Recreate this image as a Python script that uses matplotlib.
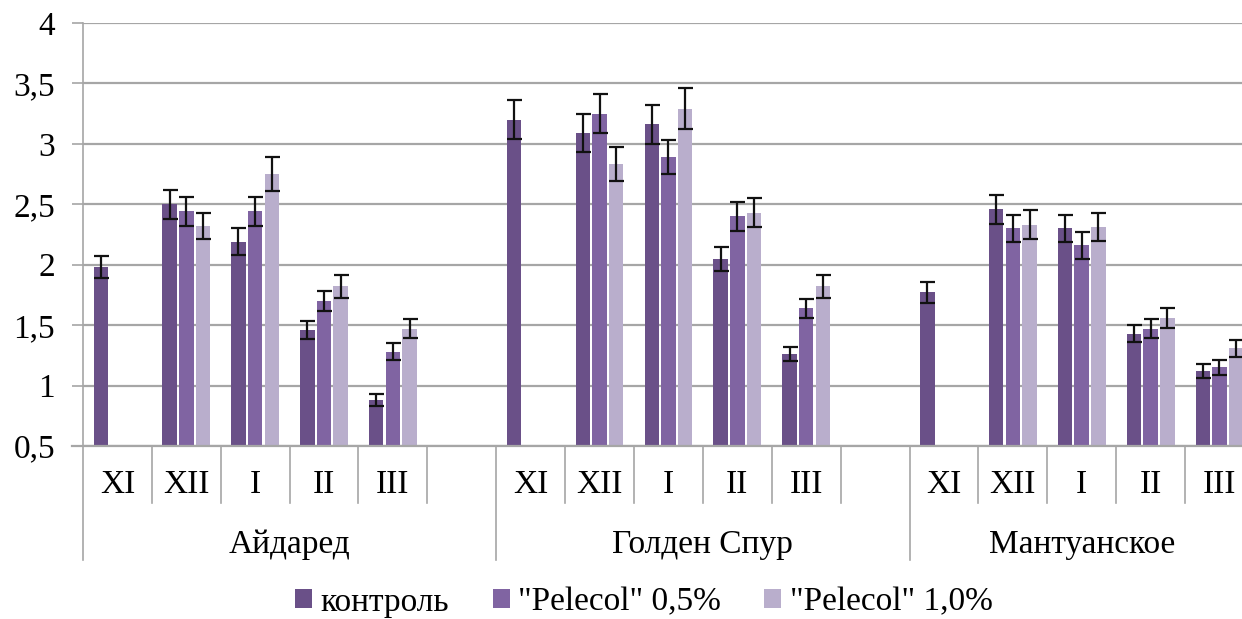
import numpy as np
import matplotlib.pyplot as plt
from matplotlib.patches import Patch
import matplotlib.transforms as mtransforms

plt.rcParams['font.family'] = ['Liberation Serif', 'DejaVu Serif']

varieties = ['Айдаред', 'Голден Спур', 'Мантуанское']
months = ['XI', 'XII', 'I', 'II', 'III']
series = ['контроль', '"Pelecol" 0,5%', '"Pelecol" 1,0%']
colors = ['#6a5088', '#8064a2', '#b9aecc']

# values per variety, month order XI..III (nan = no measurement)
control = [
    [1.98, 2.50, 2.19, 1.46, 0.88],
    [3.20, 3.09, 3.16, 2.05, 1.26],
    [1.77, 2.46, 2.30, 1.43, 1.12],
]
pelecol05 = [
    [np.nan, 2.44, 2.44, 1.70, 1.28],
    [np.nan, 3.25, 2.89, 2.40, 1.64],
    [np.nan, 2.30, 2.16, 1.47, 1.15],
]
pelecol10 = [
    [np.nan, 2.32, 2.75, 1.82, 1.47],
    [np.nan, 2.83, 3.29, 2.43, 1.82],
    [np.nan, 2.33, 2.31, 1.56, 1.31],
]
control_err = [
    [0.09, 0.12, 0.11, 0.075, 0.05],
    [0.16, 0.155, 0.16, 0.10, 0.06],
    [0.09, 0.12, 0.115, 0.07, 0.055],
]
pelecol05_err = [
    [np.nan, 0.12, 0.12, 0.08, 0.07],
    [np.nan, 0.16, 0.14, 0.12, 0.08],
    [np.nan, 0.115, 0.11, 0.08, 0.06],
]
pelecol10_err = [
    [np.nan, 0.11, 0.14, 0.095, 0.08],
    [np.nan, 0.14, 0.17, 0.12, 0.095],
    [np.nan, 0.12, 0.115, 0.085, 0.07],
]

fig = plt.figure(figsize=(12.42, 6.19), dpi=100)
ax = fig.add_axes([0.0668, 0.2795, 0.9428, 0.6835])

n_slots = len(varieties) * (len(months) + 1) - 1
base = 0.5
offsets = [-0.242, 0.0, 0.242]
width = 0.21

all_vals = [control, pelecol05, pelecol10]
all_errs = [control_err, pelecol05_err, pelecol10_err]

for s in range(3):
    xs, hs, es = [], [], []
    for g in range(len(varieties)):
        for m in range(len(months)):
            v = all_vals[s][g][m]
            if np.isnan(v):
                continue
            xs.append(g * (len(months) + 1) + m + offsets[s])
            hs.append(v)
            es.append(all_errs[s][g][m])
    xs = np.array(xs)
    hs = np.array(hs)
    ax.bar(xs, hs - base, bottom=base, width=width, color=colors[s],
           edgecolor='none', zorder=3)
    ax.errorbar(xs, hs, yerr=es, fmt='none', ecolor='#111111',
                elinewidth=1.6, capsize=5.4, capthick=1.6, zorder=4)

ax.set_xlim(-0.5, n_slots - 0.5)
ax.set_ylim(0.5, 4)
ax.set_yticks(np.arange(0.5, 4.01, 0.5))
ax.set_yticklabels([('%g' % t).replace('.', ',') for t in np.arange(0.5, 4.01, 0.5)],
                   fontsize=24)
ax.yaxis.grid(True, color='#a6a6a6', linewidth=1.6, zorder=0)
ax.tick_params(axis='y', length=8, width=1.2, color='#a6a6a6', pad=12)
ax.set_xticks([])
for side in ['top', 'right']:
    ax.spines[side].set_visible(False)
ax.spines['left'].set_color('#a6a6a6')
ax.spines['left'].set_linewidth(1.2)
ax.spines['bottom'].set_visible(False)

# horizontal axis line extends slightly to the left like the y ticks
trans = mtransforms.blended_transform_factory(ax.transData, ax.transAxes)
ax.plot([-0.5 - 11 / 68.9, n_slots - 0.5], [0, 0], transform=trans,
        color='#a6a6a6', linewidth=1.6, clip_on=False, zorder=5)

# category labels and separators below the axis
for g, name in enumerate(varieties):
    start = g * (len(months) + 1)
    for m, lab in enumerate(months):
        ax.text(start + m, -0.092, lab, transform=trans, ha='center',
                va='center', fontsize=24)
    for k in range(1, len(months) + 1):
        xsep = start + k - 0.5
        if xsep < n_slots - 0.5:
            ax.plot([xsep, xsep], [0, -0.135], transform=trans,
                    color='#a6a6a6', linewidth=1.2, clip_on=False)
    ax.plot([start - 0.5, start - 0.5], [0, -0.27], transform=trans,
            color='#a6a6a6', linewidth=1.2, clip_on=False)
    # group label centred over its slots (last group has no trailing gap)
    end = min(start + len(months), n_slots - 1)
    ax.text((start + end) / 2, -0.233, name, transform=trans, ha='center',
            va='center', fontsize=24)

handles = [Patch(facecolor=c, edgecolor='none') for c in colors]
fig.legend(handles, series, loc='center', bbox_to_anchor=(0.5185, 0.027),
           ncol=3, frameon=False, fontsize=24, handlelength=0.51,
           handleheight=0.51, handletextpad=0.25, columnspacing=1.3,
           borderpad=0.1)

fig.savefig('out.png', dpi=100)
